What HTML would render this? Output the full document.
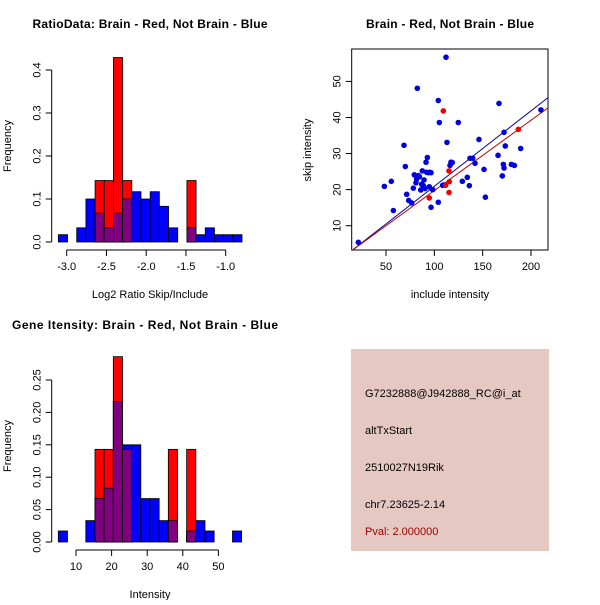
<!DOCTYPE html>
<html><head><meta charset="utf-8"><style>
body{margin:0;background:#fff}
svg text{font-family:"Liberation Sans",sans-serif}
</style></head><body>
<svg id="c" width="600" height="600" xmlns="http://www.w3.org/2000/svg">
<rect width="600" height="600" fill="#fff"/>
<text x="150" y="28" text-anchor="middle" font-size="12" font-weight="bold" textLength="235">RatioData: Brain - Red, Not Brain - Blue</text>
<text x="450" y="28" text-anchor="middle" font-size="12" font-weight="bold" textLength="168">Brain - Red, Not Brain - Blue</text>
<text x="145" y="329" text-anchor="middle" font-size="12" font-weight="bold" textLength="266">Gene Itensity: Brain - Red, Not Brain - Blue</text>
<text x="150" y="298" text-anchor="middle" font-size="11">Log2 Ratio Skip/Include</text>
<text x="150" y="598" text-anchor="middle" font-size="11">Intensity</text>
<text x="450" y="298" text-anchor="middle" font-size="11">include intensity</text>
<text transform="translate(11,146) rotate(-90)" text-anchor="middle" font-size="11">Frequency</text>
<text transform="translate(11,446) rotate(-90)" text-anchor="middle" font-size="11">Frequency</text>
<text transform="translate(311,150) rotate(-90)" text-anchor="middle" font-size="11">skip intensity</text>
<g>
<rect x="351" y="349" width="198" height="202" fill="#e6c8c2"/>
<text x="365" y="397" font-size="11">G7232888@J942888_RC@i_at</text>
<text x="365" y="434" font-size="11">altTxStart</text>
<text x="365" y="471" font-size="11">2510027N19Rik</text>
<text x="365" y="508" font-size="11">chr7.23625-2.14</text>
<text x="365" y="535" font-size="11" fill="#a00000">Pval: 2.000000</text>
</g>
</svg>
<script>
// Ratio histogram data
const ratioStart = -3.105, ratioWidth = 0.1155;
const ratioBlue = [0.017,0,0.033,0.1,0.067,0.033,0.067,0.1,0.117,0.1,0.117,0.083,0.033,0,0.033,0.017,0.033,0.017,0.017,0.017];
const ratioRed  = [0,0,0,0,0.143,0.143,0.429,0.143,0,0,0,0,0,0,0.143,0,0,0,0,0];
const ratioXTicks = [-3.0,-2.5,-2.0,-1.5,-1.0];
const ratioXLabels = ["-3.0","-2.5","-2.0","-1.5","-1.0"];
const ratioYTicks = [0,0.1,0.2,0.3,0.4];
const ratioYLabels = ["0.0","0.1","0.2","0.3","0.4"];
// Intensity histogram data
const intStart = 5.03, intWidth = 2.575;
const intBlue = [0.017,0,0,0.033,0.067,0.083,0.217,0.15,0.15,0.067,0.067,0.033,0.033,0,0.017,0.033,0.017,0,0,0.017];
const intRed  = [0,0,0,0,0.143,0.143,0.286,0.143,0,0,0,0,0.143,0,0.143,0,0,0,0,0];
const intXTicks = [10,20,30,40,50];
const intYTicks = [0,0.05,0.10,0.15,0.20,0.25];
const intYLabels = ["0.00","0.05","0.10","0.15","0.20","0.25"];
// Scatter data
const blueX = [21.4,48.3,55.5,57.6,68.6,70.0,71.4,73.4,76.6,78.3,79.3,81.0,81.7,82.4,83.4,84.5,85.9,86.9,87.6,88.6,89.3,90.3,91.4,92.1,92.8,93.8,94.8,95.5,96.6,96.6,98.3,104.1,105.2,104.1,108.6,110.0,112.1,113.1,116.2,117.2,118.6,124.8,129.0,134.1,136.2,136.9,139.7,142.1,146.2,151.4,152.8,165.9,166.9,170.3,171.4,172.1,172.1,173.4,179.7,182.8,189.3,210.3];
const blueY = [5.4,20.9,22.3,14.2,32.3,26.4,18.7,17.0,16.3,20.4,24.1,21.9,22.9,48.1,23.9,23.6,19.9,21.5,25.2,21.1,22.7,20.3,27.6,24.8,28.9,24.7,20.8,24.8,24.7,15.1,20.0,44.7,38.6,16.5,21.2,21.3,56.7,33.1,26.7,27.6,27.5,38.6,22.3,23.4,21.1,28.7,28.7,27.3,33.9,25.6,17.9,29.5,43.9,23.8,27.0,26.0,35.9,32.1,27.0,26.7,31.4,42.1];
const redX = [109.3,94.8,115.2,115.5,111.7,115.2,186.9];
const redY = [41.8,17.7,25.2,22.2,21.2,19.2,36.7];
const blueFit = [0.04,0.209];
const redFit = [0.24,0.195];
const scXTicks = [50,100,150,200];
const scYTicks = [10,20,30,40,50];

const NS="http://www.w3.org/2000/svg", svg=document.getElementById('c');
function mk(t,a,p){const e=document.createElementNS(NS,t);for(const k in a)e.setAttribute(k,a[k]);(p||svg).appendChild(e);return e;}

function hist(opts){
  const g=mk('g',{});
  
  
  const X=v=>opts.x0+(v-opts.xa)*opts.xs, Y=v=>opts.y0-v*opts.ys;
  opts.blue.forEach((b,i)=>{
    const r=opts.red[i], l=X(opts.start+i*opts.w), rr=X(opts.start+(i+1)*opts.w);
    const draw=(v,col,nm)=>{ if(v<=0) return; const e=mk('rect',{x:l,y:Y(v),width:rr-l,height:Y(0)-Y(v),fill:col,stroke:'#000','stroke-width':0.8},g);
      
       };
    draw(b,'#0000ff','bar-blue-'+i);
    draw(r,'#ff0000','bar-red-'+i);
    draw(Math.min(b,r),'#800080','bar-overlap-'+i);
  });
  const ax=mk('g',{stroke:'#000','stroke-width':1},g);
  
  
  const xt=opts.xticks, ya=opts.yaxisX, xb=opts.xaxisY;
  mk('line',{x1:X(xt[0]),x2:X(xt[xt.length-1]),y1:xb,y2:xb},ax);
  xt.forEach((t,i)=>{mk('line',{x1:X(t),x2:X(t),y1:xb,y2:xb+6},ax);
    const tx=mk('text',{x:X(t),y:xb+20,'text-anchor':'middle','font-size':11,stroke:'none'},g); tx.textContent=opts.xlabels[i];
    
    });
  const yt=opts.yticks;
  mk('line',{x1:ya,x2:ya,y1:Y(yt[0]),y2:Y(yt[yt.length-1])},ax);
  yt.forEach((t,i)=>{mk('line',{x1:ya,x2:ya-6,y1:Y(t),y2:Y(t)},ax);
    const tx=mk('text',{transform:`translate(${ya-11},${Y(t)}) rotate(-90)`,'text-anchor':'middle','font-size':11},g); tx.textContent=opts.ylabels[i];
    
    });
}
hist({name:'ratio-histogram',blue:ratioBlue,red:ratioRed,start:ratioStart,w:ratioWidth,x0:66.7,xa:-3.0,xs:79.5,y0:242,ys:430,
  xticks:ratioXTicks,xlabels:ratioXLabels,yticks:ratioYTicks,ylabels:ratioYLabels,yaxisX:51.7,xaxisY:250});
hist({name:'intensity-histogram',blue:intBlue,red:intRed,start:intStart,w:intWidth,x0:76,xa:10,xs:3.56,y0:542,ys:648,
  xticks:intXTicks,xlabels:intXTicks.map(String),yticks:intYTicks,ylabels:intYLabels,yaxisX:51.7,xaxisY:550});

// scatter
(function(){
  const g=mk('g',{});
  
  
  const X=v=>386+(v-50)*0.9667, Y=v=>225.7-(v-10)*3.6075;
  const L=351.7,R=548,T=49,B=250;
  const defs=mk('clipPath',{id:'sc'},g); mk('rect',{x:L,y:T,width:R-L,height:B-T},defs);
  const fr=mk('rect',{x:L,y:T,width:R-L,height:B-T,fill:'none',stroke:'#000'},g);
  
  
  const xmin=(L-386)/0.9667+50, xmax=(R-386)/0.9667+50;
  [[blueFit,'#0000a0','blue-fit-line'],[redFit,'#c00000','red-fit-line']].forEach(([f,c,n])=>{
    const ln=mk('line',{x1:X(xmin),y1:Y(f[0]+f[1]*xmin),x2:X(xmax),y2:Y(f[0]+f[1]*xmax),stroke:c,'stroke-width':1,'clip-path':'url(#sc)'},g);
    
    
  });
  blueX.forEach((x,i)=>{const p=mk('circle',{cx:X(x),cy:Y(blueY[i]),r:2.8,fill:'#0000dd'},g);
    
    });
  redX.forEach((x,i)=>{const p=mk('circle',{cx:X(x),cy:Y(redY[i]),r:2.8,fill:'#ee0000'},g);
    
    });
  scXTicks.forEach(t=>{mk('line',{x1:X(t),x2:X(t),y1:B,y2:B+6,stroke:'#000'},g);
    const tx=mk('text',{x:X(t),y:B+20,'text-anchor':'middle','font-size':11},g); tx.textContent=t;
    
    });
  scYTicks.forEach(t=>{mk('line',{x1:L,x2:L-6,y1:Y(t),y2:Y(t),stroke:'#000'},g);
    const tx=mk('text',{transform:`translate(${L-11},${Y(t)}) rotate(-90)`,'text-anchor':'middle','font-size':11},g); tx.textContent=t;
    
    });
})();
</script>
</body></html>
